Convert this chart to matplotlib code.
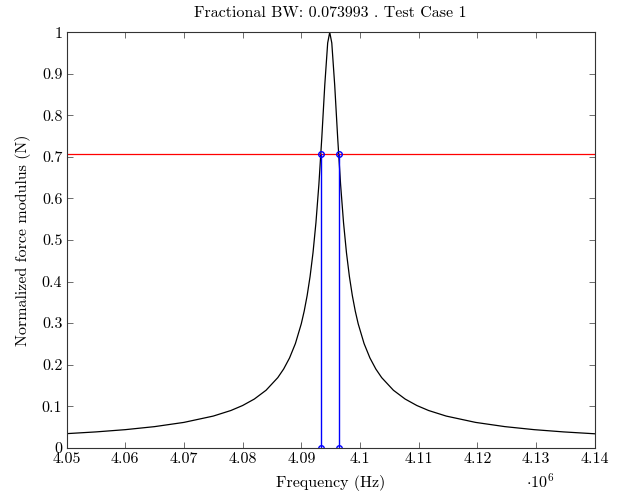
import matplotlib
matplotlib.use("Agg")
import matplotlib.pyplot as plt

plt.rcParams['font.family'] = 'serif'
plt.rcParams['font.serif'] = ['cmr10']
plt.rcParams['mathtext.fontset'] = 'cm'
plt.rcParams['axes.formatter.use_mathtext'] = True

# frequency in MHz (axis shows x 10^6) and normalized force modulus
freq = [4.050, 4.055, 4.060, 4.065, 4.070, 4.075, 4.078, 4.080, 4.082, 4.084,
        4.086, 4.087, 4.088, 4.089, 4.090, 4.0905, 4.091, 4.0915, 4.092, 4.0925,
        4.093, 4.0935, 4.094, 4.0945, 4.09485,
        4.0952, 4.0957, 4.0962, 4.0967, 4.0972, 4.0977, 4.0982, 4.0987, 4.0992,
        4.0997, 4.1007, 4.1017, 4.1027, 4.1037, 4.1057, 4.1077, 4.1097, 4.1117,
        4.1147, 4.1197, 4.1247, 4.1297, 4.1347, 4.140]
force = [0.0338, 0.0380, 0.0434, 0.0507, 0.0609, 0.0761, 0.0895, 0.1015, 0.1171, 0.1383,
         0.1687, 0.1895, 0.2160, 0.2507, 0.2982, 0.3289, 0.3662, 0.4121, 0.4694, 0.5418,
         0.6336, 0.7467, 0.8720, 0.9743, 1.0,
         0.9743, 0.8720, 0.7467, 0.6336, 0.5418, 0.4694, 0.4121, 0.3662, 0.3289,
         0.2982, 0.2507, 0.2160, 0.1895, 0.1687, 0.1383, 0.1171, 0.1015, 0.0895,
         0.0761, 0.0609, 0.0507, 0.0434, 0.0380, 0.0335]

# half-power points
half_power = 0.7071
f_low = 4.09334
f_high = 4.09637
frac_bw = "0.073993"
case_name = "Test Case 1"

fig = plt.figure(figsize=(6.2, 4.93), dpi=100)
ax = fig.add_axes([0.1073, 0.0919, 0.8519, 0.8426])

ax.plot(freq, force, color='black', linewidth=0.9)
ax.axhline(half_power, color='red', linewidth=0.9)
for f in (f_low, f_high):
    ax.plot([f, f], [0, half_power], color='blue', linewidth=1.0,
            marker='o', markersize=4, markerfacecolor='none',
            markeredgecolor='blue', markeredgewidth=1.0)

ax.set_xlim(4.05, 4.14)
ax.set_ylim(0, 1)
ax.set_xticks([4.05 + 0.01 * i for i in range(10)])
ax.set_xticklabels(['4.05', '4.06', '4.07', '4.08', '4.09', '4.1',
                    '4.11', '4.12', '4.13', '4.14'])
ax.set_yticks([0.1 * i for i in range(11)])
ax.set_yticklabels(['0', '0.1', '0.2', '0.3', '0.4', '0.5', '0.6',
                    '0.7', '0.8', '0.9', '1'])
ax.tick_params(direction='in', top=True, right=True, length=4,
               width=0.6, color='#555555', labelsize=11.5, pad=3)
for s in ax.spines.values():
    s.set_linewidth(0.8)
    s.set_color('#333333')

ax.set_xlabel('Frequency (Hz)', fontsize=11.5, labelpad=7)
ax.set_ylabel('Normalized force modulus (N)', fontsize=11.5, labelpad=8)
ax.set_title(f'Fractional BW: {frac_bw} . {case_name}', fontsize=11.5, pad=11)
ax.text(0.896, -0.082, r'$\cdot 10^6$', transform=ax.transAxes,
        ha='center', va='center', fontsize=11.5)

fig.savefig('out.png', dpi=100)
